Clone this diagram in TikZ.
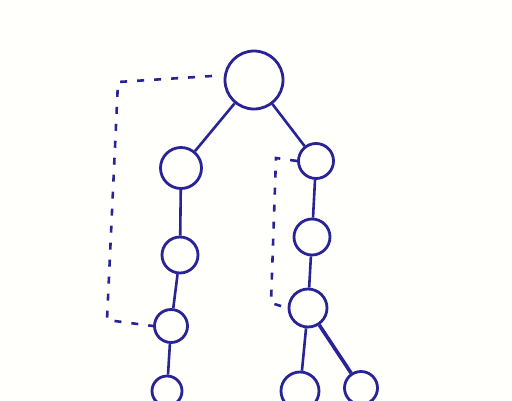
\documentclass[tikz,border=0pt]{standalone}
\begin{document}
\begin{tikzpicture}[x=1pt,y=-1pt,
  ink/.style={draw=inkblue, line width=2.8pt},
  nd/.style={ink, circle, inner sep=0pt},
  edge/.style={ink, line width=2.6pt},
  dsh/.style={draw=inkblue, line width=2.6pt, dash pattern=on 7pt off 10pt}]
\definecolor{inkblue}{RGB}{40,36,150}
\fill[white!99!yellow] (0,0) rectangle (512,400);
\useasboundingbox (0,0) rectangle (512,400);
% nodes
\node[nd, minimum size=58pt] (r) at (254,80) {};
\node[nd, minimum width=38pt, minimum height=41pt] (l1) at (181,168) {};
\node[nd, minimum size=36pt] (l2) at (180,255) {};
\node[nd, minimum width=33pt, minimum height=29pt] (l3) at (171,326) {};
\node[nd, minimum size=30pt] (l4) at (167,391) {};
\node[nd, minimum size=35pt] (r1) at (316,161) {};
\node[nd, minimum size=36pt] (r2) at (312,237) {};
\node[nd, minimum size=38pt] (r3) at (308,308) {};
\node[nd, minimum size=38pt] (r4) at (300,391) {};
\node[nd, minimum size=33pt] (r5) at (361,388) {};
% tree edges
\draw[edge] (r) -- (l1);
\draw[edge] (r) -- (r1);
\draw[edge] (l1) -- (l2);
\draw[edge] (l2) -- (l3);
\draw[edge] (l3) -- (l4);
\draw[edge] (r1) -- (r2);
\draw[edge] (r2) -- (r3);
\draw[edge] (r3) -- (r4);
\draw[edge, line width=3.6pt] (r3) -- (r5);
% dashed links
\coordinate (a0) at (212,76);
\coordinate (a1) at (118,82);
\coordinate (a2) at (107,320);
\draw[dsh] (a0) -- (a1) -- (a2) -- (l3.west);
\coordinate (b1) at (276,158);
\coordinate (b2) at (271,303);
\draw[dsh] (r1.west) -- (b1) -- (b2) -- (r3.west);
\end{tikzpicture}
\end{document}
